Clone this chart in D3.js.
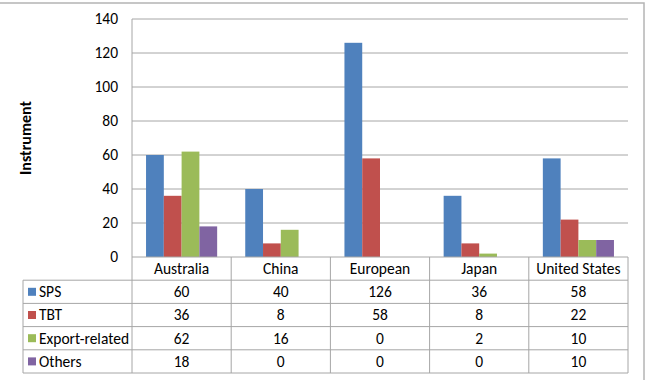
<!DOCTYPE html>
<html><head><meta charset="utf-8">
<script src="https://cdn.jsdelivr.net/npm/d3@7"></script>
<style>
html,body{margin:0;padding:0;background:#fff;}
text{font-family:Carlito, Calibri, Lato, "Liberation Sans", sans-serif;}
</style></head>
<body><svg id="c" width="654" height="380"></svg>
<script>
const categories = ["Australia","China","European","Japan","United States"];
const seriesNames = ["SPS","TBT","Export-related","Others"];
const sps = [60,40,126,36,58];
const tbt = [36,8,58,8,22];
const exportRelated = [62,16,0,2,10];
const others = [18,0,0,0,10];
const yTicks = [0,20,40,60,80,100,120,140];
const colors = ["#4F81BD","#C0504D","#9BBB59","#8064A2"];
const series = [sps,tbt,exportRelated,others];

(function(){
const svg = d3.select("#c");
const pLeft = 132, pRight = 628, pTop = 19, pBottom = 257;
const tableLeft = 23, rowH = 23.2;
const grid = "#a6a6a6";
const fs = "15.5px";

svg.append("rect").attr("x",-2).attr("y",3).attr("width",646).attr("height",400)
  .attr("fill","none").attr("stroke","#b4b4b4").attr("stroke-width",1.5);

const x0 = d3.scaleBand().domain(categories).range([pLeft,pRight]).paddingInner(0).paddingOuter(0);
const x1 = d3.scaleBand().domain(seriesNames).range([0,x0.bandwidth()]).paddingInner(0).paddingOuter(0.79);
const y = d3.scaleLinear().domain([0,140]).range([pBottom,pTop]);

svg.append("g").selectAll("line").data(yTicks.filter(d=>d>0)).join("line")
  .attr("x1",pLeft).attr("x2",pRight).attr("y1",d=>y(d)).attr("y2",d=>y(d))
  .attr("stroke",grid).attr("stroke-width",1);

const yAxis = d3.axisLeft(y).tickValues(yTicks).tickSize(0).tickPadding(14);
const ga = svg.append("g").attr("transform",`translate(${pLeft},0)`).call(yAxis);
ga.select(".domain").remove();
ga.selectAll("text").attr("font-size",fs).attr("fill","#000")
  .style("font-family","Carlito, Calibri, Lato, sans-serif");

const g = svg.append("g");
categories.forEach((c,i)=>{
  series.forEach((s,j)=>{
    const v = s[i];
    if (v<=0) return;
    g.append("rect").attr("x",x0(c)+x1(seriesNames[j])).attr("width",x1.bandwidth())
      .attr("y",y(v)).attr("height",y(0)-y(v)).attr("fill",colors[j]);
  });
});

const tg = svg.append("g");
const nRows = seriesNames.length;
const tableBottom = pBottom + rowH*(nRows+1);
tg.append("line").attr("x1",pLeft).attr("x2",pRight).attr("y1",pBottom).attr("y2",pBottom).attr("stroke",grid);
for (let r=1;r<=nRows+1;r++){
  tg.append("line").attr("x1",tableLeft).attr("x2",pRight).attr("y1",pBottom+rowH*r).attr("y2",pBottom+rowH*r).attr("stroke",grid);
}
tg.append("line").attr("x1",pLeft).attr("x2",pLeft).attr("y1",pTop).attr("y2",tableBottom).attr("stroke",grid);
tg.append("line").attr("x1",tableLeft).attr("x2",tableLeft).attr("y1",pBottom+rowH).attr("y2",tableBottom).attr("stroke",grid);
categories.forEach(c=>{
  const xe = x0(c)+x0.bandwidth();
  tg.append("line").attr("x1",xe).attr("x2",xe).attr("y1",pBottom).attr("y2",tableBottom).attr("stroke",grid);
});
categories.forEach(c=>{
  tg.append("text").attr("x",x0(c)+x0.bandwidth()/2).attr("y",pBottom+rowH/2).attr("dy","0.35em")
    .attr("text-anchor","middle").attr("font-size",fs).text(c);
});
seriesNames.forEach((n,j)=>{
  const cy = pBottom+rowH*(j+1)+rowH/2;
  tg.append("rect").attr("x",tableLeft+5).attr("y",cy-4).attr("width",8).attr("height",8).attr("fill",colors[j]);
  tg.append("text").attr("x",tableLeft+16).attr("y",cy).attr("dy","0.35em").attr("font-size",fs).text(n);
  categories.forEach((c,i)=>{
    tg.append("text").attr("x",x0(c)+x0.bandwidth()/2).attr("y",cy).attr("dy","0.35em")
      .attr("text-anchor","middle").attr("font-size",fs).text(series[j][i]);
  });
});

svg.append("text").attr("transform","translate(31,138) rotate(-90)")
  .attr("text-anchor","middle").attr("font-size","16px").attr("font-weight","bold").text("Instrument");
})();
</script></body></html>
